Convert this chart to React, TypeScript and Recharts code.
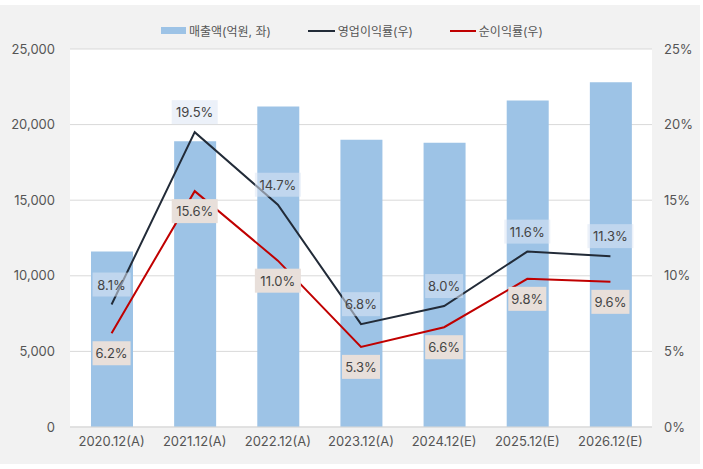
import React from "react";
import {
  ComposedChart, Bar, Line, XAxis, YAxis, CartesianGrid, LabelList,
} from "recharts";

const categories = ["2020.12(A)", "2021.12(A)", "2022.12(A)", "2023.12(A)", "2024.12(E)", "2025.12(E)", "2026.12(E)"];
const sales = [11600, 18900, 21200, 19000, 18800, 21600, 22800];       // 억원
const opMargin = [8.1, 19.5, 14.7, 6.8, 8.0, 11.6, 11.3];             // %
const netMargin = [6.2, 15.6, 11.0, 5.3, 6.6, 9.8, 9.6];              // %
const leftTicks = [0, 5000, 10000, 15000, 20000, 25000];
const rightTicks = [0, 5, 10, 15, 20, 25];

const data = categories.map((c, i) => ({
  name: c,
  sales: sales[i],
  op: opMargin[i],
  net: netMargin[i],
}));

const FONT = "Inter, 'Noto Sans CJK KR', sans-serif";
const BAR = "#9dc3e6";
const OP = "#222b38";
const NET = "#c00000";

function makeLabel(offset: number, fill: string) {
  return (props: any) => {
    const { x, y, value } = props;
    if (x == null || y == null) return null;
    const text = `${Number(value).toFixed(1)}%`;
    const w = text.length * 8 + 6;
    const h = 24;
    const cy = y + offset;
    return (
      <g>
        <rect x={x - w / 2} y={cy - h / 2} width={w} height={h} fill={fill} />
        <text x={x} y={cy} textAnchor="middle" dominantBaseline="central"
          fontSize={13} fill="#444" fontFamily={FONT}>{text}</text>
      </g>
    );
  };
}

function LegendRow() {
  const item = { display: "flex", alignItems: "center", fontSize: 12, color: "#555" } as const;
  return (
    <div style={{ position: "absolute", top: 17, left: 161, display: "flex", fontFamily: FONT }}>
      <div style={item}>
        <span style={{ width: 25, height: 7, background: BAR, marginRight: 3 }} />
        매출액(억원, 좌)
      </div>
      <div style={{ ...item, marginLeft: 37 }}>
        <span style={{ width: 27, height: 2, background: OP, marginRight: 3 }} />
        영업이익률(우)
      </div>
      <div style={{ ...item, marginLeft: 37 }}>
        <span style={{ width: 26, height: 2, background: NET, marginRight: 3 }} />
        순이익률(우)
      </div>
    </div>
  );
}

export default function App() {
  const tick = { fontSize: 13, fill: "#555", fontFamily: FONT };
  return (
    <div style={{ position: "absolute", left: 0, top: 0, width: 703, height: 469, background: "#fff" }}>
      <div style={{ position: "absolute", left: 0, top: 5, width: 700, height: 459, background: "#f2f2f2" }}>
        <LegendRow />
        <ComposedChart width={700} height={459} data={data}
          margin={{ top: 44, right: 0, left: 0, bottom: 0 }}>
          <CartesianGrid yAxisId="left" vertical={false} stroke="#d9d9d9" fill="#fff" />
          <XAxis dataKey="name" height={37} tick={tick} tickSize={0} tickMargin={10}
            axisLine={{ stroke: "#d9d9d9" }} tickLine={false} />
          <YAxis yAxisId="left" orientation="left" width={70} domain={[0, 25000]}
            ticks={leftTicks} tick={tick} tickSize={0} tickMargin={15}
            axisLine={false} tickLine={false}
            tickFormatter={(v: number) => v.toLocaleString("en-US")} />
          <YAxis yAxisId="right" orientation="right" width={48} domain={[0, 25]}
            ticks={rightTicks} tick={{ ...tick, textAnchor: "start" }} tickSize={0} tickMargin={12}
            axisLine={false} tickLine={false}
            tickFormatter={(v: number) => `${v}%`} />
          <Bar yAxisId="left" dataKey="sales" fill={BAR} barSize={42} isAnimationActive={false} />
          <Line yAxisId="right" dataKey="op" stroke={OP} strokeWidth={2} dot={false}
            activeDot={false} isAnimationActive={false} />
          <Line yAxisId="right" dataKey="net" stroke={NET} strokeWidth={2} dot={false}
            activeDot={false} isAnimationActive={false} />
          <Line yAxisId="right" dataKey="op" stroke="none" dot={false} activeDot={false}
            legendType="none" isAnimationActive={false}>
            <LabelList dataKey="op" content={makeLabel(-20, "rgba(221,230,244,0.55)")} />
          </Line>
          <Line yAxisId="right" dataKey="net" stroke="none" dot={false} activeDot={false}
            legendType="none" isAnimationActive={false}>
            <LabelList dataKey="net" content={makeLabel(20, "#e8dfda")} />
          </Line>
        </ComposedChart>
      </div>
    </div>
  );
}
